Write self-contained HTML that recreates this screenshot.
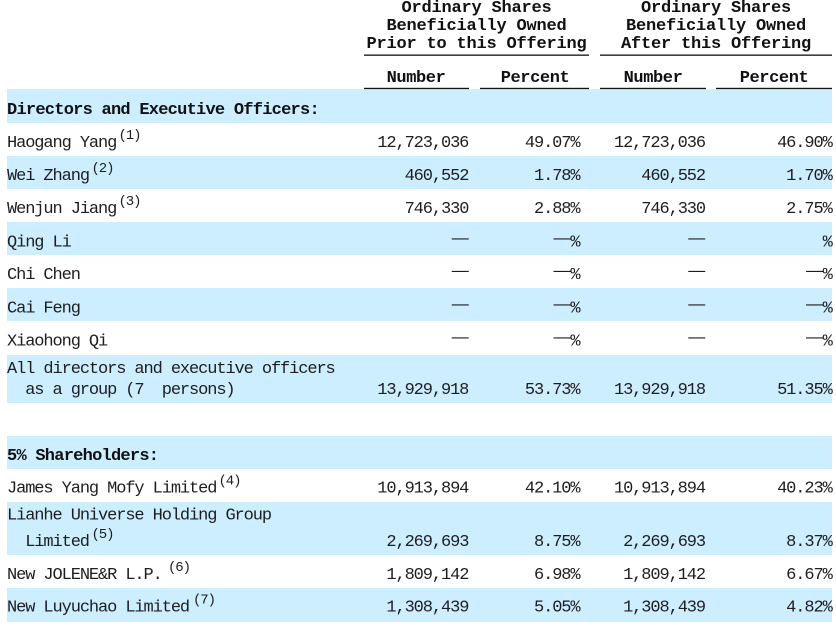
<!DOCTYPE html>
<html>
<head>
<meta charset="utf-8">
<style>
  html,body{margin:0;padding:0;background:#fff;}
  svg{display:block;}
  .b{font-family:"Liberation Mono","Noto Sans CJK SC",monospace;font-size:17px;letter-spacing:-1.1px;fill:#1e1e1e;}
  .h{font-family:"Liberation Mono","Noto Sans CJK SC",monospace;font-size:17px;font-weight:bold;letter-spacing:-0.2px;fill:#111;}
  .hs{font-family:"Liberation Mono","Noto Sans CJK SC",monospace;font-size:17px;font-weight:bold;letter-spacing:-0.75px;fill:#111;}
  .s{font-family:"Liberation Mono","Noto Sans CJK SC",monospace;font-size:14px;letter-spacing:-1.1px;fill:#1e1e1e;}
  .d{font-family:"Liberation Sans",sans-serif;font-size:17px;fill:#1e1e1e;}
  .e{text-anchor:end;}
  .m{text-anchor:middle;}
</style>
</head>
<body>
<svg width="836" height="627" viewBox="0 0 836 627" xmlns="http://www.w3.org/2000/svg" xml:space="preserve">
  <rect x="0" y="0" width="836" height="627" fill="#fff"/>
  <g fill="#cceeff">
    <rect x="7" y="89" width="825" height="34"/>
    <rect x="7" y="156" width="825" height="33"/>
    <rect x="7" y="222" width="825" height="33"/>
    <rect x="7" y="288" width="825" height="33"/>
    <rect x="7" y="355" width="825" height="48"/>
    <rect x="7" y="436" width="825" height="33"/>
    <rect x="7" y="502" width="825" height="53"/>
    <rect x="7" y="588" width="825" height="34"/>
  </g>

  <text class="h m" x="476.5" y="12">Ordinary Shares</text>
  <text class="h m" x="476.5" y="30">Beneficially Owned</text>
  <text class="h m" x="476.5" y="48">Prior to this Offering</text>
  <text class="h m" x="716" y="12">Ordinary Shares</text>
  <text class="h m" x="716" y="30">Beneficially Owned</text>
  <text class="h m" x="716" y="48">After this Offering</text>
  <rect x="364" y="54.5" width="225" height="1.3" fill="#111"/>
  <rect x="600" y="54.5" width="232" height="1.3" fill="#111"/>
  <text class="h m" x="416" y="82" style="letter-spacing:-0.4px">Number</text>
  <text class="h m" x="535" y="82" style="letter-spacing:-0.4px">Percent</text>
  <text class="h m" x="653" y="82" style="letter-spacing:-0.4px">Number</text>
  <text class="h m" x="774" y="82" style="letter-spacing:-0.4px">Percent</text>
  <rect x="364" y="87.8" width="105" height="1.3" fill="#111"/>
  <rect x="480" y="87.8" width="109" height="1.3" fill="#111"/>
  <rect x="600" y="87.8" width="106" height="1.3" fill="#111"/>
  <rect x="716" y="87.8" width="116" height="1.3" fill="#111"/>

  <text class="hs" x="7" y="114">Directors and Executive Officers:</text>

  <text class="b" x="7" y="147">Haogang Yang</text>
  <text class="s" x="118.5" y="139">(1)</text>
  <text class="b e" x="468.3" y="147">12,723,036</text>
  <text class="b e" x="579.5" y="147">49.07%</text>
  <text class="b e" x="705" y="147">12,723,036</text>
  <text class="b e" x="831.7" y="147">46.90%</text>

  <text class="b" x="7" y="180">Wei Zhang</text>
  <text class="s" x="91.5" y="172">(2)</text>
  <text class="b e" x="468.3" y="180">460,552</text>
  <text class="b e" x="579.5" y="180">1.78%</text>
  <text class="b e" x="705" y="180">460,552</text>
  <text class="b e" x="831.7" y="180">1.70%</text>

  <text class="b" x="7" y="213">Wenjun Jiang</text>
  <text class="s" x="118.5" y="205">(3)</text>
  <text class="b e" x="468.3" y="213">746,330</text>
  <text class="b e" x="579.5" y="213">2.88%</text>
  <text class="b e" x="705" y="213">746,330</text>
  <text class="b e" x="831.7" y="213">2.75%</text>

  <text class="b" x="7" y="246.5">Qing Li</text>
  <text class="d" x="451.7" y="243">—</text>
  <text class="d" x="553.5" y="243">—</text>
  <text class="b e" x="579.5" y="246.5">%</text>
  <text class="d" x="688.3" y="243">—</text>
  <text class="b e" x="831.7" y="246.5">%</text>

  <text class="b" x="7" y="279">Chi Chen</text>
  <text class="d" x="451.7" y="275.5">—</text>
  <text class="d" x="553.5" y="275.5">—</text>
  <text class="b e" x="579.5" y="279">%</text>
  <text class="d" x="688.3" y="275.5">—</text>
  <text class="d" x="806" y="275.5">—</text>
  <text class="b e" x="831.7" y="279">%</text>

  <text class="b" x="7" y="312.3">Cai Feng</text>
  <text class="d" x="451.7" y="308.8">—</text>
  <text class="d" x="553.5" y="308.8">—</text>
  <text class="b e" x="579.5" y="312.3">%</text>
  <text class="d" x="688.3" y="308.8">—</text>
  <text class="d" x="806" y="308.8">—</text>
  <text class="b e" x="831.7" y="312.3">%</text>

  <text class="b" x="7" y="345.3">Xiaohong Qi</text>
  <text class="d" x="451.7" y="341.8">—</text>
  <text class="d" x="553.5" y="341.8">—</text>
  <text class="b e" x="579.5" y="345.3">%</text>
  <text class="d" x="688.3" y="341.8">—</text>
  <text class="d" x="806" y="341.8">—</text>
  <text class="b e" x="831.7" y="345.3">%</text>

  <text class="b" x="7" y="373">All directors and executive officers</text>
  <text class="b" x="25.2" y="394" xml:space="preserve">as a group (7  persons)</text>
  <text class="b e" x="468.3" y="394">13,929,918</text>
  <text class="b e" x="579.5" y="394">53.73%</text>
  <text class="b e" x="705" y="394">13,929,918</text>
  <text class="b e" x="831.7" y="394">51.35%</text>

  <text class="hs" x="7" y="460">5% Shareholders:</text>

  <text class="b" x="7" y="492.7">James Yang Mofy Limited</text>
  <text class="s" x="218.5" y="484.7">(4)</text>
  <text class="b e" x="468.3" y="492.7">10,913,894</text>
  <text class="b e" x="579.5" y="492.7">42.10%</text>
  <text class="b e" x="705" y="492.7">10,913,894</text>
  <text class="b e" x="831.7" y="492.7">40.23%</text>

  <text class="b" x="7" y="519.5">Lianhe Universe Holding Group</text>
  <text class="b" x="25.2" y="546">Limited</text>
  <text class="s" x="91.5" y="538">(5)</text>
  <text class="b e" x="468.3" y="546">2,269,693</text>
  <text class="b e" x="579.5" y="546">8.75%</text>
  <text class="b e" x="705" y="546">2,269,693</text>
  <text class="b e" x="831.7" y="546">8.37%</text>

  <text class="b" x="7" y="579">New JOLENE&amp;R L.P.</text>
  <text class="s" x="168" y="571">(6)</text>
  <text class="b e" x="468.3" y="579">1,809,142</text>
  <text class="b e" x="579.5" y="579">6.98%</text>
  <text class="b e" x="705" y="579">1,809,142</text>
  <text class="b e" x="831.7" y="579">6.67%</text>

  <text class="b" x="7" y="611.7">New Luyuchao Limited</text>
  <text class="s" x="193" y="603.7">(7)</text>
  <text class="b e" x="468.3" y="611.7">1,308,439</text>
  <text class="b e" x="579.5" y="611.7">5.05%</text>
  <text class="b e" x="705" y="611.7">1,308,439</text>
  <text class="b e" x="831.7" y="611.7">4.82%</text>
</svg>
</body>
</html>
